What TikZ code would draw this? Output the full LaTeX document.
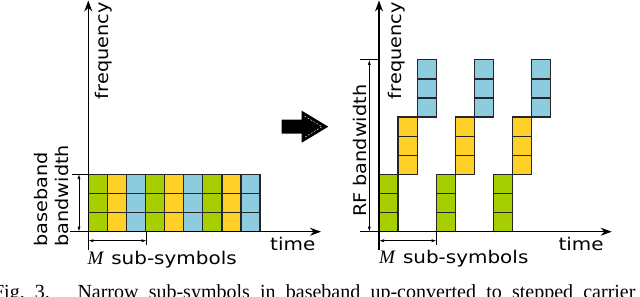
\documentclass[tikz,border=0pt]{standalone}
\usepackage{fontspec}
\setmainfont{Liberation Serif}
\newfontfamily\lbl[FakeStretch=1.1]{DejaVu Sans}
\newfontfamily\lblh[FakeStretch=1.14]{DejaVu Sans}
\usetikzlibrary{arrows.meta}
\definecolor{cg}{RGB}{166,206,0}
\definecolor{cy}{RGB}{255,208,40}
\definecolor{cb}{RGB}{140,204,222}
\begin{document}
\begin{tikzpicture}[x=1pt,y=-1pt,
  cell/.style={draw=black!85,line width=1.3pt},
  axis/.style={line width=1.1pt,-{Stealth[length=11pt,width=8pt]}},
  dim/.style={line width=0.7pt,{Latex[length=5pt,width=3pt]}-{Latex[length=5pt,width=3pt]}},
  ext/.style={line width=0.7pt},
  lab/.style={font=\lbl\fontsize{17.5}{20}\selectfont, inner sep=0pt},
  labh/.style={font=\lblh\fontsize{17.5}{20}\selectfont, inner sep=0pt},
  captxt/.style={font=\rmfamily\fontsize{20}{24}\selectfont, inner sep=0pt}]
\useasboundingbox (0,0) rectangle (640,297);
% left grid
\foreach \i/\c in {0/cg,1/cy,2/cb,3/cg,4/cy,5/cb,6/cg,7/cy,8/cb}
  \foreach \j in {0,1,2}
    \draw[cell,fill=\c] ({88.3+19.08*\i},{231.7-19.1*\j}) rectangle ++(19.08,-19.1);
% right stepped grid
\foreach \g in {0,1,2}
  \foreach \k/\c in {0/cg,1/cy,2/cb}
    \foreach \j in {0,1,2}
      \draw[cell,fill=\c] ({379+19.08*(3*\g+\k)},{231.7-19.1*(3*\k+\j)}) rectangle ++(19.08,-19.1);
% axes left
\coordinate (Lyb) at (88.3,250); \coordinate (Lyt) at (88.3,0.5);
\coordinate (Lxl) at (70,231.7); \coordinate (Lxr) at (321,231.7);
\draw[axis] (Lyb) -- (Lyt);
\draw[axis] (Lxl) -- (Lxr);
% axes right
\coordinate (Ryb) at (379,250); \coordinate (Ryt) at (379,0.5);
\coordinate (Rxl) at (360,231.7); \coordinate (Rxr) at (611.7,231.7);
\draw[axis] (Ryb) -- (Ryt);
\draw[axis] (Rxl) -- (Rxr);
% dimensions left
\coordinate (bbt1) at (71.7,174); \coordinate (bbt2) at (88.3,174);
\draw[ext] (bbt1) -- (bbt2);
\coordinate (bbd1) at (79,174); \coordinate (bbd2) at (79,231.7);
\draw[dim] (bbd1) -- (bbd2);
\coordinate (mLt1) at (146.7,231.7); \coordinate (mLt2) at (146.7,245);
\draw[ext] (mLt1) -- (mLt2);
\coordinate (mLd1) at (88.3,240.7); \coordinate (mLd2) at (146.7,240.7);
\draw[dim] (mLd1) -- (mLd2);
% dimensions right
\coordinate (rft1) at (360,59.8); \coordinate (rft2) at (379,59.8);
\draw[ext] (rft1) -- (rft2);
\coordinate (rfd1) at (369.3,59.8); \coordinate (rfd2) at (369.3,231.7);
\draw[dim] (rfd1) -- (rfd2);
\coordinate (mRt1) at (436.6,231.7); \coordinate (mRt2) at (436.6,245);
\draw[ext] (mRt1) -- (mRt2);
\coordinate (mRd1) at (379,240.7); \coordinate (mRd2) at (436.6,240.7);
\draw[dim] (mRd1) -- (mRd2);
% labels
\node[lab,rotate=90,anchor=base west] (freqL) at (108.8,99.3) {frequency};
\node[lab,rotate=90,anchor=base west] (freqR) at (401.5,99.3) {frequency};
\node[lab,rotate=90,anchor=base west] (bb1) at (47.3,246.7) {baseband};
\node[lab,rotate=90,anchor=base west] (bb2) at (68.3,246.7) {bandwidth};
\node[lab,rotate=90,anchor=base west] (rfbw) at (366.7,217) {RF bandwidth};
\node[labh,anchor=base west] (timeL) at (270,250) {time};
\node[labh,anchor=base west] (timeR) at (558.3,250.7) {time};
\node[labh,anchor=base west] (msL) at (87.3,264.3) {{\rmfamily\itshape\fontsize{19}{20}\selectfont M}\hspace{8pt}sub-symbols};
\node[labh,anchor=base west] (msR) at (379,263.7) {{\rmfamily\itshape\fontsize{19}{20}\selectfont M}\hspace{8pt}sub-symbols};
% block arrow
\fill (281.7,119.5) -- (301.7,119.5) -- (301.7,110.7) -- (328.3,126.7) -- (301.7,142.7) -- (301.7,133.5) -- (281.7,133.5) -- cycle;
\draw[white,line width=0.4pt,dash pattern=on 2pt off 1.5pt] (304.5,116) -- (322,126.7) -- (304.5,137.4);
% caption (cropped)
\node[captxt,anchor=base east] (figno) at (50,298) {Fig.\hspace{10pt}3.};
\node[captxt,anchor=base west] (captext) at (77.3,298) {\makebox[558pt][s]{Narrow sub-symbols in baseband up-converted to stepped carrier}};
\end{tikzpicture}
\end{document}
